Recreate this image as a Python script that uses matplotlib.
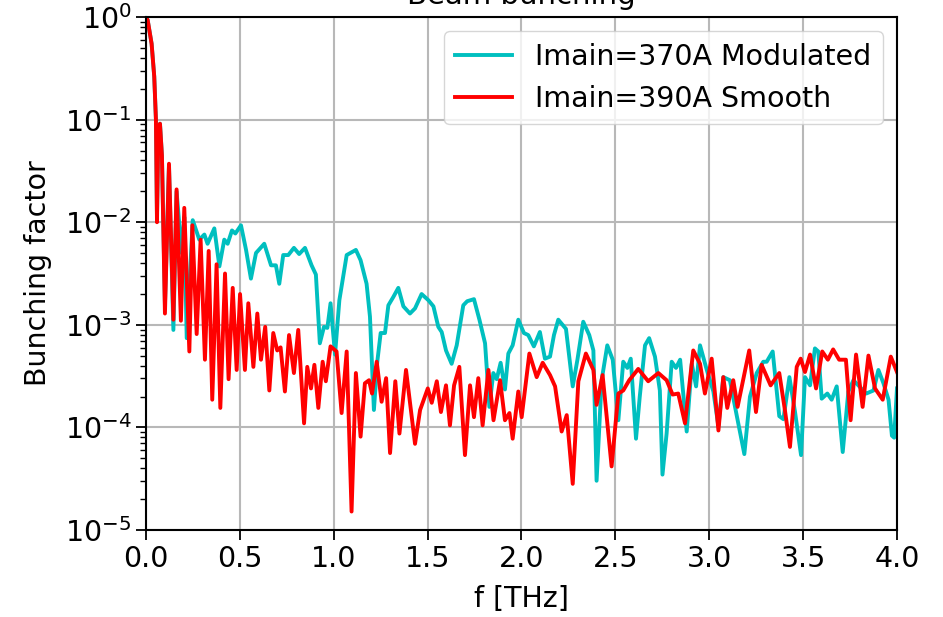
import numpy as np
import matplotlib
matplotlib.use('Agg')
import matplotlib.pyplot as plt

# frequency [THz] and log10(bunching factor)
f_370 = [0.000, 0.009, 0.030, 0.044, 0.053, 0.0586, 0.066, 0.0746, 0.085, 0.101,
         0.1225, 0.146, 0.163, 0.190, 0.204, 0.217, 0.249, 0.284, 0.311, 0.328,
         0.364, 0.391, 0.417, 0.435, 0.458, 0.476, 0.506, 0.533, 0.559, 0.586,
         0.630, 0.666, 0.692, 0.710, 0.731, 0.758, 0.788, 0.816, 0.847, 0.882,
         0.905, 0.926, 0.948, 0.966, 0.983, 1.007, 1.030, 1.069, 1.118, 1.143,
         1.175, 1.193, 1.214, 1.232, 1.250, 1.273, 1.291, 1.317, 1.344, 1.371,
         1.406, 1.433, 1.468, 1.504, 1.531, 1.557, 1.575, 1.598, 1.628, 1.655,
         1.690, 1.711, 1.747, 1.776, 1.806, 1.829, 1.850, 1.868, 1.889, 1.912,
         1.930, 1.953, 1.983, 2.013, 2.036, 2.066, 2.098, 2.125, 2.152, 2.173,
         2.196, 2.237, 2.273, 2.298, 2.329, 2.361, 2.383, 2.400, 2.427, 2.457,
         2.486, 2.516, 2.542, 2.564, 2.582, 2.610, 2.630, 2.658, 2.680, 2.711,
         2.737, 2.751, 2.773, 2.800, 2.823, 2.845, 2.880, 2.907, 2.930, 2.951,
         2.987, 3.022, 3.049, 3.075, 3.110, 3.146, 3.187, 3.217, 3.253, 3.288,
         3.306, 3.338, 3.373, 3.395, 3.427, 3.457, 3.489, 3.510, 3.537, 3.563,
         3.581, 3.599, 3.629, 3.652, 3.679, 3.711, 3.741, 3.768, 3.836, 3.875,
         3.901, 3.928, 3.955, 3.973, 3.985, 4.000]
lg_370 = [0.00, -0.03, -0.26, -0.58, -1.00, -1.95, -1.10, -1.04, -1.35, -2.80,
          -1.45, -3.05, -1.70, -2.30, -1.95, -3.13, -1.98, -2.17, -2.12, -2.21,
          -2.06, -2.43, -2.17, -2.21, -2.08, -2.11, -2.03, -2.27, -2.55, -2.30,
          -2.21, -2.42, -2.42, -2.60, -2.32, -2.32, -2.25, -2.31, -2.25, -2.42,
          -2.51, -3.18, -3.02, -3.03, -2.79, -3.29, -2.76, -2.32, -2.27, -2.37,
          -2.60, -2.92, -3.83, -3.36, -3.08, -3.08, -2.81, -2.73, -2.64, -2.82,
          -2.89, -2.84, -2.70, -2.76, -2.82, -3.02, -3.07, -3.25, -3.38, -3.20,
          -2.81, -2.77, -2.75, -2.95, -3.18, -3.80, -3.47, -3.53, -3.37, -3.63,
          -3.28, -3.20, -2.95, -3.08, -3.10, -3.21, -3.07, -3.33, -3.31, -3.10,
          -2.95, -3.04, -3.60, -3.34, -2.97, -3.10, -3.25, -4.52, -3.54, -3.20,
          -3.34, -3.93, -3.36, -3.42, -3.33, -4.11, -3.70, -3.20, -3.13, -3.31,
          -3.64, -4.46, -4.06, -3.36, -3.42, -3.34, -4.04, -3.38, -3.60, -3.20,
          -3.44, -3.65, -3.99, -3.51, -3.54, -3.88, -4.26, -3.70, -3.47, -3.36,
          -3.36, -3.26, -3.89, -3.92, -3.51, -3.85, -4.27, -3.51, -3.59, -3.23,
          -3.26, -3.72, -3.67, -3.73, -3.60, -4.24, -3.65, -3.54, -3.67, -3.64,
          -3.44, -3.57, -3.73, -4.08, -4.10, -3.62]

f_390 = [0.000, 0.009, 0.030, 0.044, 0.053, 0.0586, 0.066, 0.0746, 0.085, 0.101,
         0.1225, 0.146, 0.163, 0.186, 0.204, 0.231, 0.247, 0.270, 0.291, 0.314,
         0.334, 0.353, 0.376, 0.396, 0.421, 0.440, 0.462, 0.483, 0.501, 0.527,
         0.545, 0.572, 0.593, 0.6125, 0.635, 0.657, 0.678, 0.699, 0.717, 0.740,
         0.762, 0.788, 0.811, 0.842, 0.859, 0.879, 0.897, 0.918, 0.941, 0.958,
         0.983, 1.015, 1.042, 1.069, 1.095, 1.118, 1.143, 1.166, 1.188, 1.204,
         1.229, 1.255, 1.279, 1.300, 1.328, 1.350, 1.385, 1.433, 1.460, 1.501,
         1.522, 1.549, 1.571, 1.598, 1.619, 1.641, 1.669, 1.699, 1.726, 1.747,
         1.770, 1.793, 1.824, 1.851, 1.886, 1.912, 1.936, 1.953, 1.983, 2.001,
         2.042, 2.081, 2.113, 2.152, 2.179, 2.214, 2.241, 2.273, 2.303, 2.343,
         2.383, 2.400, 2.432, 2.480, 2.516, 2.542, 2.574, 2.622, 2.675, 2.729,
         2.773, 2.805, 2.835, 2.871, 2.915, 2.951, 2.977, 3.013, 3.049, 3.075,
         3.096, 3.128, 3.151, 3.213, 3.249, 3.279, 3.327, 3.373, 3.403, 3.430,
         3.466, 3.487, 3.510, 3.537, 3.569, 3.602, 3.632, 3.660, 3.692, 3.728,
         3.753, 3.782, 3.817, 3.848, 3.883, 3.924, 3.967, 4.000]
lg_390 = [0.00, -0.03, -0.26, -0.58, -1.00, -2.00, -1.10, -1.04, -1.35, -2.89,
          -1.43, -2.95, -1.68, -2.96, -1.86, -3.26, -2.03, -3.09, -2.17, -3.34,
          -2.28, -3.73, -2.41, -3.81, -2.50, -3.53, -2.64, -3.44, -2.70, -3.44,
          -2.79, -3.41, -2.89, -3.34, -3.02, -3.64, -3.08, -3.25, -3.22, -3.65,
          -3.10, -3.47, -3.05, -3.96, -3.41, -3.62, -3.39, -3.81, -3.36, -3.55,
          -3.21, -3.26, -3.86, -3.26, -4.82, -3.47, -4.09, -3.57, -3.54, -3.67,
          -3.36, -3.75, -3.52, -4.25, -3.55, -4.06, -3.44, -4.16, -3.83, -3.62,
          -3.76, -3.55, -3.85, -3.59, -3.98, -3.59, -3.41, -4.27, -3.59, -3.90,
          -3.52, -3.98, -3.44, -3.93, -3.54, -3.93, -3.86, -4.11, -3.65, -3.90,
          -3.28, -3.51, -3.37, -3.49, -3.60, -4.04, -3.88, -4.55, -3.55, -3.28,
          -3.44, -3.78, -3.49, -4.38, -3.67, -3.64, -3.54, -3.43, -3.55, -3.47,
          -3.54, -3.68, -3.67, -3.96, -3.25, -3.38, -3.67, -3.33, -4.03, -3.51,
          -3.81, -3.54, -3.80, -3.25, -3.85, -3.39, -3.59, -3.47, -3.83, -4.19,
          -3.41, -3.33, -3.46, -3.29, -3.62, -3.26, -3.34, -3.24, -3.34, -3.34,
          -3.93, -3.29, -3.80, -3.30, -3.62, -3.73, -3.31, -3.46]

labels = ['Imain=370A Modulated', 'Imain=390A Smooth']

plt.rcParams['font.size'] = 20.5

fig = plt.figure(figsize=(9.43, 6.17), dpi=100)
ax = fig.add_axes([0.1548, 0.141, 0.7964, 0.8314])

ax.plot(f_370, 10 ** np.array(lg_370), color='c', lw=2.8, label=labels[0])
ax.plot(f_390, 10 ** np.array(lg_390), color='r', lw=2.8, label=labels[1])

ax.set_yscale('log')
ax.set_xlim(0, 4)
ax.set_ylim(1e-5, 1e0)
ax.set_xticks(np.arange(0, 4.01, 0.5))
ax.set_title('Beam bunching', fontsize=21, pad=9.5)
ax.set_xlabel('f [THz]', labelpad=9)
ax.set_ylabel('Bunching factor', labelpad=9)
ax.grid(True, which='major', color='#b8b8b8', lw=1.5)
ax.tick_params(which='major', length=7, width=1.3)
ax.tick_params(which='minor', length=4, width=1.0)
for sp in ax.spines.values():
    sp.set_linewidth(1.5)
ax.legend(loc='upper right')

fig.savefig('out.png', dpi=100)
